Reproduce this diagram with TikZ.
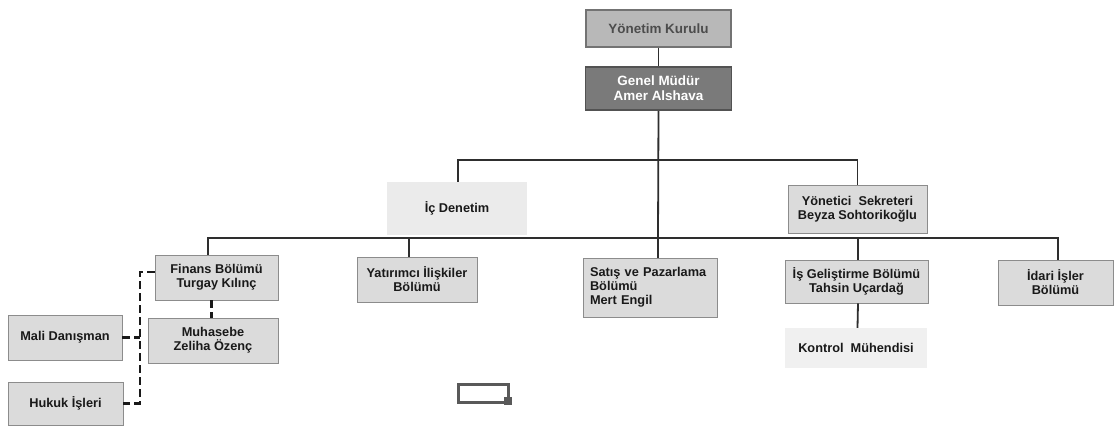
\documentclass[tikz,border=0pt]{standalone}
\usepackage{fontspec}
\setmainfont{Liberation Sans}
\begin{document}
\begin{tikzpicture}[x=1bp,y=-1bp,
  txt/.style={font=\fontsize{12.8}{14}\selectfont\bfseries, text=black!90, align=center, inner sep=0pt},
  lbox/.style={txt, fill=black!14, draw=black!45, line width=0.7bp, minimum width=#1},
  sbox/.style={txt, fill=black!8, minimum width=#1},
  conn/.style={draw=black!82, line width=1.8bp},
  dconn/.style={draw=black!90, line width=2.6bp, dash pattern=on 8bp off 4bp},
]
\useasboundingbox (0,0) rectangle (1114,428);
% top
\node[txt, font=\fontsize{13.5}{15}\selectfont\bfseries, text=black!70, fill=black!28, draw=black!55, line width=1.6bp, minimum width=145bp, minimum height=37bp] (yk) at (658.5,28.5) {Yönetim Kurulu};
\node[txt, font=\fontsize{13.5}{15}\selectfont\bfseries, text=white, fill=black!52, draw=black!68, line width=1.6bp, minimum width=146bp, minimum height=43bp] (gm) at (658.5,88.5) {Genel Müdür\\Amer Alshava};
% second level
\node[sbox=140bp, minimum height=53bp] (ic) at (457,208.5) {İç Denetim};
\node[lbox=139bp, minimum height=48bp] (ys) at (857.5,209) {Yönetici\ \ Sekreteri\\Beyza Sohtorikoğlu};
% third level
\node[lbox=123bp, minimum height=45bp] (fin) at (216.5,277.5) {Finans Bölümü\\Turgay Kılınç};
\node[lbox=130bp, minimum height=45bp] (muh) at (213,340.5) {Muhasebe\\Zeliha Özenç};
\node[lbox=114bp, minimum height=45bp] (mali) at (65,337.5) {Mali Danışman};
\node[lbox=115bp, minimum height=43bp] (huk) at (65.5,403.5) {Hukuk İşleri};
\node[lbox=120bp, minimum height=45bp] (yat) at (417,279.5) {Yatırımcı İlişkiler\\Bölümü};
\node[lbox=134bp, minimum height=59bp, align=left, text width=120bp] (sat) at (650,287.5) {Satış ve Pazarlama\\Bölümü\\Mert Engil};
\node[lbox=143bp, minimum height=43bp] (isg) at (856.5,281.5) {İş Geliştirme Bölümü\\Tahsin Uçardağ};
\node[sbox=142bp, minimum height=40bp, fill=black!6] (kon) at (856,348) {Kontrol\ \ Mühendisi};
\node[lbox=115bp, minimum height=45bp] (ida) at (1055.5,282.5) {İdari İşler\\Bölümü};
% bus coordinates
\coordinate (b1) at (658,160);
\coordinate (b2) at (658,238);
% connectors
\draw[conn] (yk.south) -- (gm.north);
\draw[conn] (gm.south) -- (b2);
\draw[conn] ([xshift=1bp]ic.north) |- (b1) -| (ys.north);
\draw[conn] ([xshift=-8.5bp]fin.north) |- (b2) -| ([xshift=2.5bp]ida.north);
\draw[conn] (b2) -- (sat.north -| b2);
\draw[conn] ([xshift=-8bp]yat.north) -- ([xshift=-8bp]yat.north |- b2);
\draw[conn] ([xshift=1.5bp]isg.north) -- ([xshift=1.5bp]isg.north |- b2);
\draw[conn] ([xshift=1.5bp]isg.south) -- ([xshift=1.5bp]kon.north);
\draw[dconn] ([xshift=-5bp]fin.south) -- ([xshift=-5bp]fin.south |- muh.north);
% dashed staff links
\coordinate (dl) at (140,272);
\draw[dconn] (fin.west |- dl) -- (dl) |- (huk.east);
\draw[dconn] (mali.east) -- (mali.east -| dl);
% stray mark
\draw[draw=black!65, line width=3bp] (458,384) rectangle (508,402);
\fill[black!65] (504,397) rectangle (512,405);
\end{tikzpicture}
\end{document}
